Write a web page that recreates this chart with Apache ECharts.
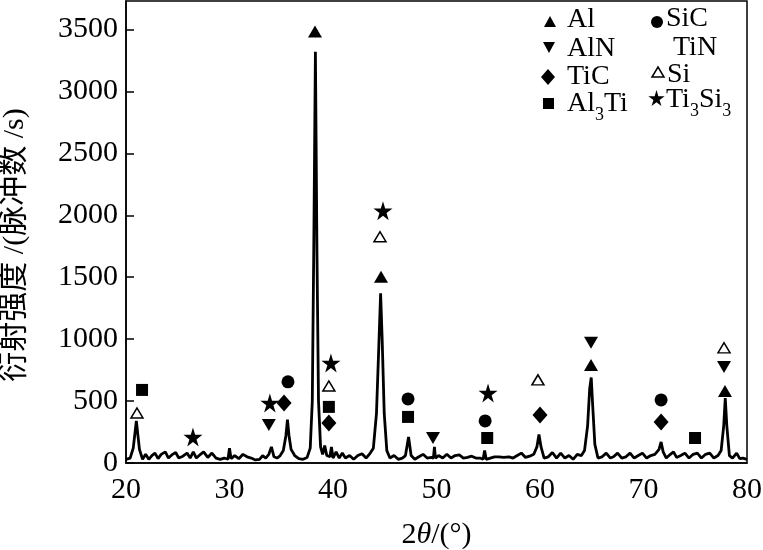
<!DOCTYPE html>
<html>
<head>
<meta charset="utf-8">
<script src="https://cdn.jsdelivr.net/npm/echarts@6/dist/echarts.min.js"></script>
<style>html,body{margin:0;padding:0;background:#fff}#c{width:763px;height:550px}</style>
</head>
<body>
<div id="c"></div>
<script>
// XRD pattern (2θ in degrees, counts/s)
var twoTheta = [20.0,20.4,20.7,21.0,21.3,21.6,21.9,22.2,22.5,22.8,23.1,23.4,23.8,24.1,24.5,24.8,25.1,25.5,25.9,26.2,26.5,26.8,27.2,27.5,27.9,28.3,28.7,29.1,29.5,29.85,30.0,30.15,30.5,30.9,31.3,31.7,32.1,32.5,32.9,33.2,33.5,33.8,34.05,34.3,34.6,34.9,35.2,35.45,35.6,35.75,35.95,36.3,36.7,37.1,37.5,37.8,38.0,38.15,38.3,38.45,38.6,38.8,39.0,39.2,39.4,39.7,39.85,40.0,40.3,40.6,40.9,41.2,41.6,42.0,42.4,42.8,43.2,43.6,43.9,44.2,44.45,44.6,44.75,44.95,45.2,45.5,45.9,46.3,46.7,47.0,47.3,47.55,47.9,48.3,48.7,49.1,49.5,49.7,49.8,49.9,50.2,50.6,51.0,51.4,51.8,52.2,52.6,53.0,53.4,53.8,54.2,54.5,54.65,54.8,55.2,55.6,56.0,56.5,57.0,57.4,57.8,58.2,58.6,59.0,59.4,59.7,59.9,60.1,60.4,60.8,61.2,61.6,62.0,62.4,62.8,63.2,63.6,64.0,64.3,64.6,64.8,64.95,65.1,65.3,65.6,66.0,66.4,66.8,67.1,67.5,67.9,68.3,68.7,69.1,69.5,69.9,70.3,70.7,71.1,71.5,71.7,71.9,72.2,72.6,72.9,73.2,73.6,74.0,74.4,74.8,75.2,75.6,76.0,76.4,76.8,77.2,77.5,77.75,77.9,78.05,78.3,78.6,79.0,79.3,79.6,80.0];
var counts = [30,40,120,340,110,30,70,30,60,80,35,70,90,40,70,85,40,55,80,40,90,40,70,90,45,80,40,30,40,30,120,35,60,35,70,50,40,25,30,60,40,70,130,50,40,60,100,220,350,220,110,60,35,30,45,120,500,1800,3320,1700,500,130,70,140,60,50,130,40,90,40,80,40,60,30,60,75,40,80,120,400,1000,1370,1000,400,100,40,60,30,40,60,210,60,30,50,70,40,45,40,130,40,60,40,70,40,60,65,40,45,55,40,40,30,100,30,40,50,50,45,50,40,60,80,45,55,70,130,230,130,40,50,85,40,80,40,60,30,70,60,100,300,600,690,450,150,40,50,80,40,50,80,40,50,80,40,60,80,40,60,70,110,170,90,40,70,90,45,60,80,40,70,80,40,70,80,40,60,100,300,525,300,60,40,80,35,40,30];

// phase markers [2θ, counts]
var markAl    = [[38.26,3484],[44.64,1504],[64.93,792],[77.87,582]];
var markAlN   = [[33.8,307],[49.66,202],[64.93,970],[77.78,776]];
var markTiC   = [[35.27,485],[39.6,323],[60.0,388],[71.7,331]];
var markAl3Ti = [[21.55,590],[39.6,453],[47.25,372],[54.9,202],[74.98,202]];
var markSiC   = [[35.65,655],[47.25,517],[54.7,340],[71.7,509]];
var markSi    = [[21.06,404],[39.6,622],[44.54,1827],[59.8,671],[77.78,930]];
var markTiSi  = [[26.47,210],[33.9,485],[39.8,808],[44.83,2037],[54.98,566]];

var yTicks = [0,500,1000,1500,2000,2500,3000,3500];
var xTicks = [20,30,40,50,60,70,80];

var serif = '"Liberation Serif","Times New Roman",serif';
var starPts = [[50,0],[61,35],[98,35],[68,57],[79,91],[50,70],[21,91],[32,57],[2,35],[39,35]];
var starPath = 'path://M' + starPts.map(function(p){return p[0]+','+p[1];}).join(' L') + ' Z';

var chart = echarts.init(document.getElementById('c'), null, {renderer:'canvas'});

function sc(name, data, symbol, size, fill) {
  return {
    name: name, type: 'scatter', data: data, symbol: symbol, symbolSize: size, z: 5,
    itemStyle: {color: fill || '#000', borderColor: '#000', borderWidth: fill ? 1.5 : 0, opacity: 1}
  };
}

var lineData = twoTheta.map(function(t, i){ return [t, counts[i]]; });

var legendFont = 28;
function legText(x, y, rich) {
  return {type:'text', x: x, y: y, z: 10, style: {text: rich, fill:'#000',
    font: legendFont + 'px ' + serif, textVerticalAlign: 'middle',
    rich: {n: {fontSize: legendFont, fontFamily: serif, verticalAlign:'bottom', lineHeight: 28},
           s: {fontSize: 18, fontFamily: serif, verticalAlign:'bottom', lineHeight: 20, padding:[0,0,-6,0]}}}};
}
function starIcon(x, y, w, h) {
  return {type:'polygon', z:10, shape:{points: starPts.map(function(p){return [x + p[0]*w/100, y + p[1]*h/91];})}, style:{fill:'#000'}};
}

chart.setOption({
  animation: false,
  backgroundColor: '#fff',
  grid: {left: 126, right: 16, top: 1, bottom: 87, show: true, borderColor: '#000', borderWidth: 1.5,
         containLabel: false, outerBoundsMode: 'none'},
  xAxis: {
    type: 'value', min: 20, max: 80, interval: 10,
    axisLine: {show: true, lineStyle: {color: '#000', width: 1.5}},
    axisTick: {show: false},
    splitLine: {show: false},
    axisLabel: {color: '#000', fontFamily: serif, fontSize: 30, margin: 12, formatter: function(v){ return String(v); }},
    name: '{n|2}{i|θ}{n|/(°)}', nameLocation: 'middle', nameGap: 57,
    nameTextStyle: {color:'#000', rich: {n: {fontFamily: serif, fontSize: 30, color:'#000'}, i: {fontFamily: serif, fontSize: 30, fontStyle: 'italic', color:'#000'}}}
  },
  yAxis: {
    type: 'value', min: 0, max: 3730, interval: 500,
    axisLine: {show: true, lineStyle: {color: '#000', width: 1.5}},
    axisTick: {show: true, inside: true, length: 8, lineStyle: {color:'#000', width: 1.5}},
    splitLine: {show: false},
    axisLabel: {color: '#000', fontFamily: serif, fontSize: 30, margin: 8, showMaxLabel: false, formatter: function(v){ return String(v); }},
    name: '衍射强度 /(脉冲数 /s)', nameLocation: 'middle', nameGap: 96,
    nameTextStyle: {color:'#000', fontFamily: serif + ',"Noto Sans CJK SC"', fontSize: 30, padding: [0, 26, 0, 0]}
  },
  series: [
    {type: 'line', data: lineData, showSymbol: false, smooth: false, z: 2,
     lineStyle: {color: '#000', width: 2.8}},
    sc('Al', markAl, 'triangle', [14, 12]),
    sc('AlN', markAlN, 'path://M0,0 L10,0 L5,9 Z', [14, 12]),
    sc('TiC', markTiC, 'diamond', [15, 17]),
    sc('Al3Ti', markAl3Ti, 'rect', [12, 12]),
    sc('SiC', markSiC, 'circle', 13),
    sc('Si', markSi, 'triangle', [12, 10], '#fff'),
    sc('Ti3Si3', markTiSi, starPath, 19)
  ],
  graphic: [
    // left legend column
    {type:'polygon', z:10, shape:{points:[[550,16],[556,27],[544,27]]}, style:{fill:'#000'}},
    legText(567, 20, '{n|Al}'),
    {type:'polygon', z:10, shape:{points:[[543,42],[555,42],[549,53]]}, style:{fill:'#000'}},
    legText(567, 49, '{n|AlN}'),
    {type:'polygon', z:10, shape:{points:[[548,69],[555,77],[548,85],[541,77]]}, style:{fill:'#000'}},
    legText(567, 77, '{n|TiC}'),
    {type:'rect', z:10, shape:{x:543, y:98, width:11, height:11}, style:{fill:'#000'}},
    legText(567, 104, '{n|Al}{s|3}{n|Ti}'),
    // right legend column
    {type:'circle', z:10, shape:{cx:657, cy:22, r:6}, style:{fill:'#000'}},
    legText(666, 19, '{n|SiC}'),
    legText(673, 48, '{n|TiN}'),
    {type:'polygon', z:10, shape:{points:[[658,67],[664,77],[652,77]]}, style:{fill:'#fff', stroke:'#000', lineWidth:1.5}},
    legText(667, 75, '{n|Si}'),
    starIcon(648, 90, 17, 16),
    legText(666, 100, '{n|Ti}{s|3}{n|Si}{s|3}')
  ]
});
</script>
</body>
</html>
